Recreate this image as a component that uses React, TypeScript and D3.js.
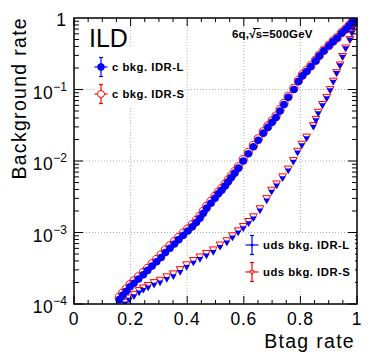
import { useEffect, useRef } from "react";
import * as d3 from "d3";

// c background: btag efficiency vs mis-tag rate
const btagC = [
  0.160, 0.172, 0.185, 0.198, 0.212, 0.228, 0.245, 0.260, 0.276, 0.292,
  0.308, 0.323, 0.339, 0.355, 0.370, 0.386, 0.402, 0.418, 0.432, 0.445,
  0.457, 0.469, 0.484, 0.498, 0.510, 0.522, 0.534, 0.545, 0.556, 0.568,
  0.581, 0.598, 0.616, 0.634, 0.651, 0.669, 0.685, 0.700, 0.714, 0.728,
  0.742, 0.757, 0.777, 0.793, 0.807, 0.822, 0.837, 0.854, 0.867, 0.883,
  0.901, 0.916, 0.930, 0.946, 0.960, 0.972, 0.983, 0.993,
];
const cBkgIdrL = [
  1.15e-4, 1.32e-4, 1.51e-4, 1.74e-4, 1.95e-4, 2.24e-4, 2.57e-4, 2.95e-4, 3.39e-4, 3.89e-4,
  4.47e-4, 5.25e-4, 6.03e-4, 6.92e-4, 7.94e-4, 9.12e-4, 1.05e-3, 1.2e-3, 1.38e-3, 1.58e-3,
  1.86e-3, 2.19e-3, 2.57e-3, 3.02e-3, 3.47e-3, 3.89e-3, 4.47e-3, 5.13e-3, 5.89e-3, 6.76e-3,
  7.94e-3, 1.0e-2, 1.26e-2, 1.58e-2, 1.95e-2, 2.45e-2, 2.95e-2, 3.47e-2, 4.07e-2, 5.01e-2,
  6.17e-2, 7.76e-2, 0.1, 0.129, 0.155, 0.178, 0.209, 0.251, 0.295, 0.347,
  0.407, 0.468, 0.525, 0.617, 0.692, 0.776, 0.871, 0.955,
];
const cBkgIdrS = [
  1.24e-4, 1.42e-4, 1.62e-4, 1.86e-4, 2.1e-4, 2.4e-4, 2.75e-4, 3.15e-4, 3.65e-4, 4.2e-4,
  4.85e-4, 5.7e-4, 6.5e-4, 7.45e-4, 8.5e-4, 9.8e-4, 1.12e-3, 1.28e-3, 1.47e-3, 1.68e-3,
  1.98e-3, 2.32e-3, 2.72e-3, 3.2e-3, 3.66e-3, 4.1e-3, 4.7e-3, 5.4e-3, 6.18e-3, 7.1e-3,
  8.3e-3, 1.05e-2, 1.32e-2, 1.65e-2, 2.04e-2, 2.56e-2, 3.08e-2, 3.62e-2, 4.25e-2, 5.22e-2,
  6.4e-2, 8.05e-2, 0.104, 0.133, 0.16, 0.184, 0.215, 0.258, 0.302, 0.355,
  0.415, 0.476, 0.533, 0.625, 0.7, 0.783, 0.878, 0.962,
];

// uds background
const btagUds = [
  0.180, 0.195, 0.212, 0.230, 0.245, 0.262, 0.283, 0.304, 0.328, 0.351,
  0.375, 0.398, 0.422, 0.445, 0.468, 0.492, 0.516, 0.540, 0.560, 0.580,
  0.598, 0.617, 0.634, 0.657, 0.681, 0.698, 0.716, 0.737, 0.757, 0.775,
  0.790, 0.805, 0.822, 0.846, 0.855, 0.863, 0.878, 0.893, 0.905, 0.916,
  0.928, 0.940, 0.949, 0.960, 0.975, 0.982, 0.987, 0.992, 0.997,
];
const udsBkgIdrL = [
  1.02e-4, 1.15e-4, 1.29e-4, 1.45e-4, 1.58e-4, 1.7e-4, 1.86e-4, 2.0e-4, 2.24e-4, 2.45e-4,
  2.82e-4, 3.31e-4, 3.8e-4, 4.27e-4, 4.79e-4, 5.37e-4, 6.31e-4, 7.24e-4, 8.51e-4, 1.0e-3,
  1.15e-3, 1.35e-3, 1.58e-3, 2.04e-3, 2.82e-3, 3.72e-3, 4.57e-3, 5.75e-3, 7.41e-3, 9.77e-3,
  1.32e-2, 1.66e-2, 2.09e-2, 3.02e-2, 3.72e-2, 4.68e-2, 6.03e-2, 7.59e-2, 9.77e-2, 0.129,
  0.17, 0.219, 0.288, 0.38, 0.501, 0.631, 0.759, 0.891, 0.98,
];
const udsBkgIdrS = [
  1.08e-4, 1.24e-4, 1.4e-4, 1.58e-4, 1.72e-4, 1.86e-4, 2.04e-4, 2.2e-4, 2.46e-4, 2.7e-4,
  3.1e-4, 3.62e-4, 4.15e-4, 4.66e-4, 5.22e-4, 5.85e-4, 6.85e-4, 7.85e-4, 9.2e-4, 1.08e-3,
  1.24e-3, 1.46e-3, 1.7e-3, 2.2e-3, 3.05e-3, 4.0e-3, 4.9e-3, 6.15e-3, 7.9e-3, 1.04e-2,
  1.4e-2, 1.76e-2, 2.21e-2, 3.2e-2, 3.92e-2, 4.92e-2, 6.32e-2, 7.95e-2, 0.102, 0.134,
  0.176, 0.226, 0.296, 0.39, 0.512, 0.642, 0.77, 0.9, 0.99,
];

const xTicks = [0, 0.2, 0.4, 0.6, 0.8, 1];
const xTickLabels = ["0", "0.2", "0.4", "0.6", "0.8", "1"];
const yDecades = [1, 1e-1, 1e-2, 1e-3, 1e-4];
const yExponents = ["", "\u22121", "\u22122", "\u22123", "\u22124"];

const W = 374;
const H = 357;
const FONT = "'Liberation Sans', Arial, Helvetica, sans-serif";

const App = () => {
  const svgRef = useRef<SVGSVGElement>(null);

  useEffect(() => {
    const svg = d3.select(svgRef.current);
    svg.selectAll("*").remove();

    const left = 74, right = 357, top = 18, bottom = 304;
    const x = d3.scaleLinear().domain([0, 1]).range([left, right]);
    const y = d3.scaleLog().domain([1e-4, 1]).range([bottom, top]);

    svg.append("rect").attr("width", W).attr("height", H).attr("fill", "white");

    // dotted grid
    const grid = svg.append("g")
      .attr("stroke", "#b0b0b0")
      .attr("stroke-width", 1)
      .attr("stroke-dasharray", "1,2");
    xTicks.slice(1, -1).forEach((v) => {
      grid.append("line").attr("x1", x(v)).attr("x2", x(v)).attr("y1", top).attr("y2", bottom);
    });
    yDecades.slice(1, -1).forEach((v) => {
      grid.append("line").attr("x1", left).attr("x2", right).attr("y1", y(v)).attr("y2", y(v));
    });

    svg.append("defs").append("clipPath").attr("id", "frame")
      .append("rect").attr("x", left).attr("y", top).attr("width", right - left).attr("height", bottom - top);

    const plot = svg.append("g").attr("clip-path", "url(#frame)");
    const tri = (size) => d3.symbol().type(d3.symbolTriangle).size(size)();

    // uds: open red triangles, then filled blue
    plot.append("g").selectAll("path")
      .data(btagUds.map((b, i) => [b, udsBkgIdrS[i]]))
      .enter().append("path")
      .attr("d", tri(26))
      .attr("transform", (d) => `translate(${x(d[0])},${y(d[1])}) rotate(180)`)
      .attr("fill", "none").attr("stroke", "#ff0000").attr("stroke-width", 1);
    plot.append("g").selectAll("path")
      .data(btagUds.map((b, i) => [b, udsBkgIdrL[i]]))
      .enter().append("path")
      .attr("d", tri(19))
      .attr("transform", (d) => `translate(${x(d[0])},${y(d[1])}) rotate(180)`)
      .attr("fill", "#0000ff");

    // c: open red circles, then filled blue
    plot.append("g").selectAll("circle")
      .data(btagC.map((b, i) => [b, cBkgIdrS[i]]))
      .enter().append("circle")
      .attr("cx", (d) => x(d[0])).attr("cy", (d) => y(d[1])).attr("r", 4.1)
      .attr("fill", "none").attr("stroke", "#ff0000").attr("stroke-width", 1);
    plot.append("g").selectAll("circle")
      .data(btagC.map((b, i) => [b, cBkgIdrL[i]]))
      .enter().append("circle")
      .attr("cx", (d) => x(d[0])).attr("cy", (d) => y(d[1])).attr("r", 3.8)
      .attr("fill", "#0000ff");

    // frame
    svg.append("rect")
      .attr("x", left).attr("y", top).attr("width", right - left).attr("height", bottom - top)
      .attr("fill", "none").attr("stroke", "black").attr("stroke-width", 1.5);

    // ticks
    const ticks = svg.append("g").attr("stroke", "black").attr("stroke-width", 1);
    d3.range(0, 1.0001, 0.05).forEach((v) => {
      const major = Math.abs(v * 5 - Math.round(v * 5)) < 1e-6;
      const len = major ? 8 : 4;
      ticks.append("line").attr("x1", x(v)).attr("x2", x(v)).attr("y1", bottom).attr("y2", bottom - len);
      ticks.append("line").attr("x1", x(v)).attr("x2", x(v)).attr("y1", top).attr("y2", top + len);
    });
    yDecades.slice(1).forEach((d) => {
      d3.range(1, 10).forEach((k) => {
        const v = d * k;
        const len = k === 1 ? 9 : 5;
        ticks.append("line").attr("x1", left).attr("x2", left + len).attr("y1", y(v)).attr("y2", y(v));
        ticks.append("line").attr("x1", right).attr("x2", right - len).attr("y1", y(v)).attr("y2", y(v));
      });
    });

    // x tick labels
    svg.append("g").selectAll("text")
      .data(xTicks)
      .enter().append("text")
      .attr("x", (d) => x(d)).attr("y", 325)
      .attr("text-anchor", "middle")
      .attr("font-family", FONT).attr("font-size", 17.5).attr("letter-spacing", 0.8)
      .text((d, i) => xTickLabels[i]);

    // y tick labels
    yDecades.forEach((d, i) => {
      if (i === 0) {
        svg.append("text").attr("x", 66).attr("y", y(d) + 8)
          .attr("text-anchor", "end").attr("font-family", FONT).attr("font-size", 17.5)
          .text("1");
        return;
      }
      const t = svg.append("text").attr("x", 67).attr("y", y(d) + 9)
        .attr("text-anchor", "end").attr("font-family", FONT).attr("font-size", 17.5);
      t.append("tspan").attr("letter-spacing", 0.5).text("10");
      t.append("tspan").attr("dy", -8).attr("font-size", 12).text(yExponents[i]);
    });

    // axis titles
    svg.append("text").attr("x", 355).attr("y", 348)
      .attr("text-anchor", "end").attr("font-family", FONT).attr("font-size", 19.5).attr("letter-spacing", 1.3)
      .text("Btag rate");
    svg.append("text").attr("transform", "translate(26,17) rotate(-90)")
      .attr("text-anchor", "end").attr("font-family", FONT).attr("font-size", 19.5).attr("letter-spacing", 1.3)
      .text("Background rate");

    // labels in the frame
    svg.append("text").attr("x", 89).attr("y", 47)
      .attr("font-family", FONT).attr("font-size", 25)
      .text("ILD");
    svg.append("text").attr("x", 232).attr("y", 38)
      .attr("font-family", FONT).attr("font-size", 11.5).attr("font-weight", "bold").attr("letter-spacing", 0.2)
      .text("6q,\u221As=500GeV");
    svg.append("line").attr("x1", 253).attr("x2", 260.5).attr("y1", 28.5).attr("y2", 28.5)
      .attr("stroke", "black").attr("stroke-width", 1);

    // legends
    const legend = (x0, y0, w, h, entries) => {
      const g = svg.append("g");
      g.append("rect").attr("x", x0).attr("y", y0).attr("width", w).attr("height", h).attr("fill", "white");
      entries.forEach((e) => {
        const lg = g.append("g").attr("stroke", e.color).attr("stroke-width", 1.2);
        lg.append("line").attr("x1", e.mx - 6.5).attr("x2", e.mx + 6.5).attr("y1", e.my).attr("y2", e.my);
        lg.append("line").attr("x1", e.mx).attr("x2", e.mx).attr("y1", e.my - 9.5).attr("y2", e.my + 9.5);
        lg.append("line").attr("x1", e.mx - 2).attr("x2", e.mx + 2).attr("y1", e.my - 9.5).attr("y2", e.my - 9.5);
        lg.append("line").attr("x1", e.mx - 2).attr("x2", e.mx + 2).attr("y1", e.my + 9.5).attr("y2", e.my + 9.5);
        if (e.marker === "dot") {
          g.append("circle").attr("cx", e.mx).attr("cy", e.my).attr("r", 3.7).attr("fill", e.color);
        } else if (e.marker === "ring") {
          g.append("circle").attr("cx", e.mx).attr("cy", e.my).attr("r", 3.5)
            .attr("fill", "white").attr("stroke", e.color).attr("stroke-width", 1);
        } else if (e.marker === "tri") {
          g.append("path").attr("d", tri(6)).attr("transform", `translate(${e.mx},${e.my}) rotate(180)`)
            .attr("fill", e.color);
        } else {
          g.append("path").attr("d", tri(8)).attr("transform", `translate(${e.mx},${e.my}) rotate(180)`)
            .attr("fill", "white").attr("stroke", e.color).attr("stroke-width", 1);
        }
        g.append("text").attr("x", e.mx + 11).attr("y", e.my + 4)
          .attr("font-family", FONT).attr("font-size", 11.3).attr("font-weight", "bold").attr("letter-spacing", 0.5)
          .text(e.label);
      });
    };
    legend(95, 47, 88, 60, [
      { label: "c bkg. IDR-L", color: "#0000ff", marker: "dot", mx: 101, my: 67 },
      { label: "c bkg. IDR-S", color: "#ff0000", marker: "ring", mx: 101, my: 94 },
    ]);
    legend(241, 234, 114, 57, [
      { label: "uds bkg. IDR-L", color: "#0000ff", marker: "tri", mx: 252, my: 245 },
      { label: "uds bkg. IDR-S", color: "#ff0000", marker: "otri", mx: 252, my: 272 },
    ]);
  }, []);

  return <svg ref={svgRef} width={W} height={H} style={{ position: "absolute", left: 0, top: 0 }}></svg>;
};

export default App;
